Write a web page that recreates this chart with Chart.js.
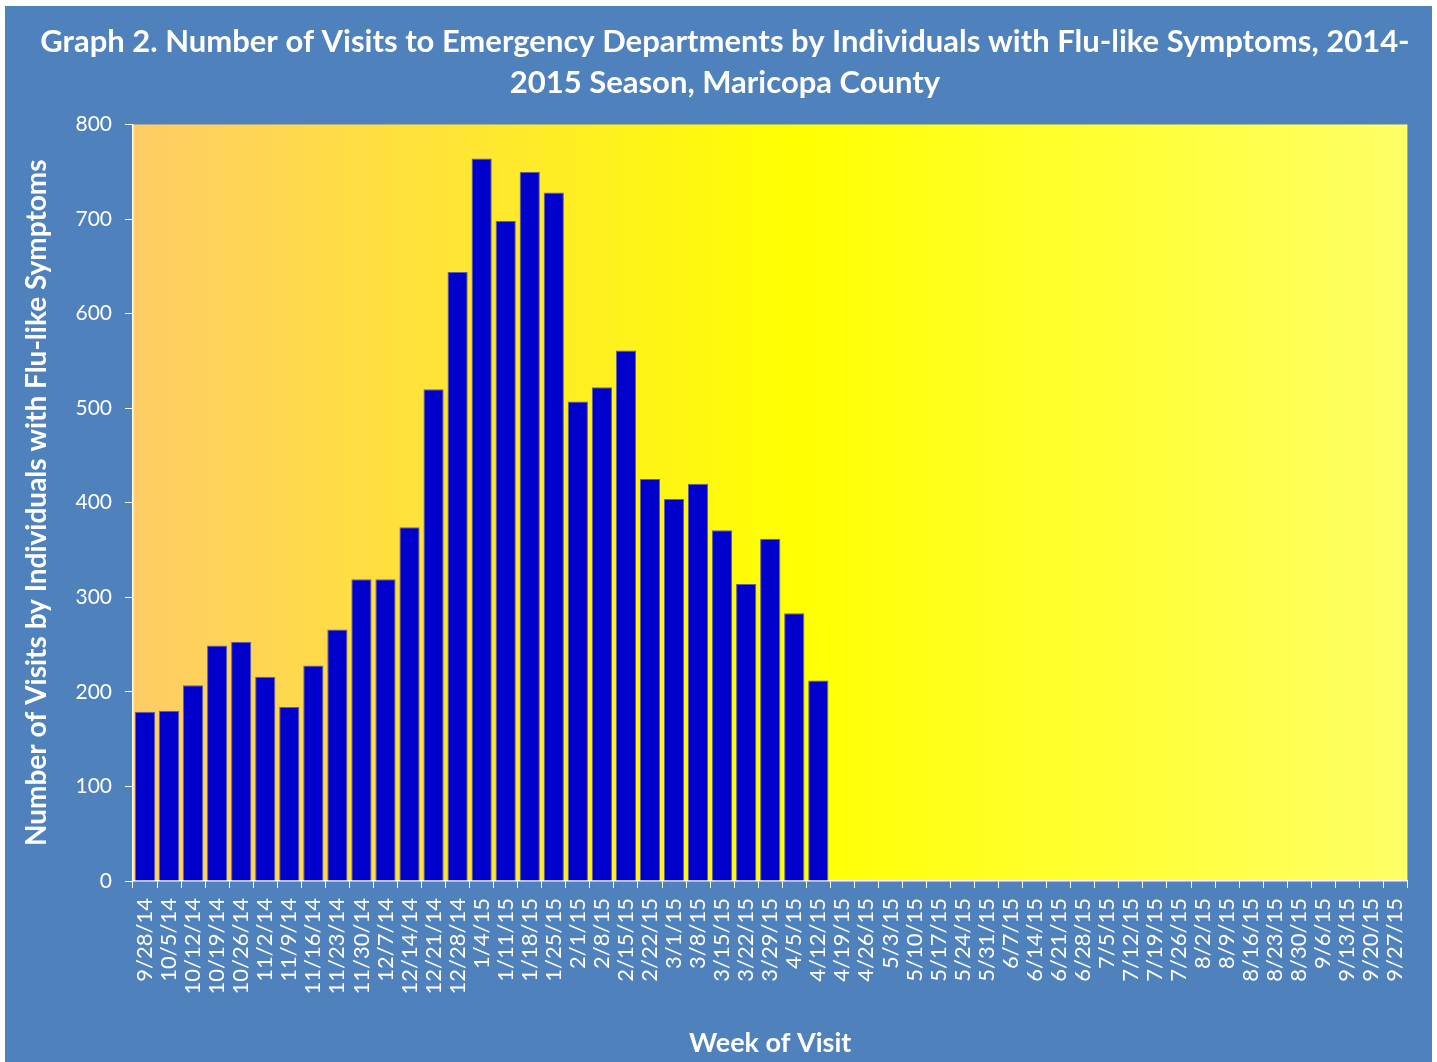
<!DOCTYPE html>
<html lang="en">
<head>
    <meta charset="UTF-8">
    <title>Graph 2 - ED visits, flu-like symptoms</title>
    <script src="https://cdn.jsdelivr.net/npm/chart.js"></script>
    <style>
        body { margin: 0; background: #fff; }
        #wrap {
            position: absolute;
            left: 5px; top: 6px;
            width: 1427px; height: 1056px;
            background: #4f81bd;
        }
    </style>
</head>
<body>
<div id="wrap"><canvas id="chart"></canvas></div>

<script>
    // weeks of the 2014-2015 season
    const weeks = ['9/28/14','10/5/14','10/12/14','10/19/14','10/26/14','11/2/14','11/9/14','11/16/14',
        '11/23/14','11/30/14','12/7/14','12/14/14','12/21/14','12/28/14','1/4/15','1/11/15','1/18/15',
        '1/25/15','2/1/15','2/8/15','2/15/15','2/22/15','3/1/15','3/8/15','3/15/15','3/22/15','3/29/15',
        '4/5/15','4/12/15','4/19/15','4/26/15','5/3/15','5/10/15','5/17/15','5/24/15','5/31/15','6/7/15',
        '6/14/15','6/21/15','6/28/15','7/5/15','7/12/15','7/19/15','7/26/15','8/2/15','8/9/15','8/16/15',
        '8/23/15','8/30/15','9/6/15','9/13/15','9/20/15','9/27/15'];

    // visits per week (only reported up to 4/12/15)
    const visits = [179, 180, 207, 249, 253, 216, 184, 228, 266, 319, 319, 374, 520, 644, 764, 698,
        750, 728, 507, 522, 561, 425, 404, 420, 371, 314, 362, 283, 212];

    const yTicks = [0, 100, 200, 300, 400, 500, 600, 700, 800];

    const font = 'Lato, "Open Sans", sans-serif';

    const plotBg = {
        id: 'plotBg',
        beforeDraw(chart) {
            const { ctx, chartArea: a } = chart;
            const g = ctx.createLinearGradient(a.left, 0, a.right, 0);
            g.addColorStop(0, '#ffcc66');
            g.addColorStop(0.52, '#ffff00');
            g.addColorStop(1, '#ffff66');
            ctx.save();
            ctx.fillStyle = g;
            ctx.fillRect(a.left, a.top, a.right - a.left, a.bottom - a.top);
            ctx.restore();
        }
    };

    new Chart(document.getElementById('chart'), {
        type: 'bar',
        data: {
            labels: weeks,
            datasets: [{
                label: 'Visits',
                data: visits,
                backgroundColor: '#0000cc',
                borderColor: '#6262a8',
                borderWidth: 1,
                categoryPercentage: 1,
                barPercentage: 0.84
            }]
        },
        options: {
            responsive: true,
            maintainAspectRatio: false,
            animation: false,
            layout: { padding: { left: 13, right: 0, top: 0, bottom: 0 } },
            plugins: {
                legend: { display: false },
                tooltip: { enabled: false },
                title: {
                    display: true,
                    text: ['Graph 2. Number of Visits to Emergency Departments by Individuals with Flu-like Symptoms, 2014-',
                           '2015 Season, Maricopa County'],
                    color: '#fff',
                    font: { family: font, size: 31, weight: 'bold', lineHeight: 1.33 },
                    padding: { top: 15, bottom: 21 }
                }
            },
            scales: {
                x: {
                    afterFit(s) { s.height = 181; },
                    grid: { display: true, drawOnChartArea: false, color: '#fff', tickLength: 7, offset: true },
                    border: { color: '#fff', width: 1.5 },
                    ticks: {
                        color: '#fff',
                        autoSkip: false,
                        maxRotation: 90,
                        minRotation: 90,
                        padding: 10,
                        font: { family: font, size: 22 }
                    },
                    title: {
                        display: true,
                        text: 'Week of Visit',
                        color: '#fff',
                        font: { family: font, size: 27, weight: 'bold', lineHeight: 1.2 },
                        padding: { top: 0, bottom: 3 }
                    }
                },
                y: {
                    min: yTicks[0],
                    max: yTicks[yTicks.length - 1],
                    afterFit(s) { s.width = 115; },
                    afterBuildTicks(s) { s.ticks = yTicks.map(v => ({ value: v })); },
                    grid: { display: true, drawOnChartArea: false, color: '#fff', tickLength: 8 },
                    border: { color: '#fff', width: 1.5 },
                    ticks: {
                        color: '#fff',
                        padding: 13,
                        font: { family: font, size: 21 }
                    },
                    title: {
                        display: true,
                        text: 'Number of Visits by Individuals with Flu-like Symptoms',
                        color: '#fff',
                        font: { family: font, size: 28, weight: 'bold', lineHeight: 1.2 },
                        padding: { top: 2, bottom: 0 }
                    }
                },
                // empty right-hand strip between plot and frame
                side: {
                    position: 'right',
                    afterFit(s) { s.width = 22; },
                    grid: { display: false },
                    border: { display: false },
                    ticks: { display: false }
                }
            }
        },
        plugins: [plotBg]
    });
</script>
</body>
</html>
